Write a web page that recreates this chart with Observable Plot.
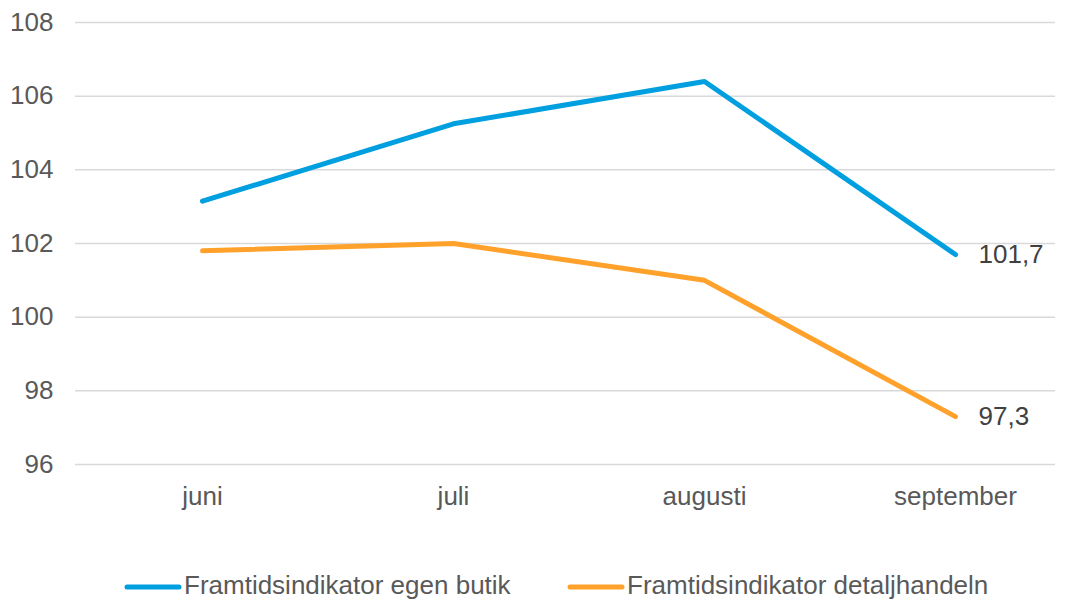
<!DOCTYPE html>
<html><head><meta charset="utf-8">
<script src="https://cdn.jsdelivr.net/npm/d3@7"></script>
<script src="https://cdn.jsdelivr.net/npm/@observablehq/plot@0.6"></script>
<style>
body{margin:0;background:#fff;font-family:"Liberation Sans",Arial,sans-serif;}
svg{display:block;}
</style></head>
<body><div id="chart"></div>
<script>
const months = ["juni","juli","augusti","september"];
const seriesNames = ["Framtidsindikator egen butik","Framtidsindikator detaljhandeln"];
const egenButik = [103.15, 105.25, 106.4, 101.7];
const detaljhandeln = [101.8, 102.0, 101.0, 97.3];
const endLabels = ["101,7","97,3"];
const yTicks = [96,98,100,102,104,106,108];
const colors = ["#009fdf","#ffa12b"];

const data = [];
months.forEach((m,i)=>{
  data.push({month:m, value:egenButik[i], series:seriesNames[0]});
  data.push({month:m, value:detaljhandeln[i], series:seriesNames[1]});
});
const last = [
  {month:months[3], value:egenButik[3], label:endLabels[0]},
  {month:months[3], value:detaljhandeln[3], label:endLabels[1]}
];

const chart = Plot.plot({
  width:1068, height:530,
  marginLeft:75, marginRight:13, marginTop:22, marginBottom:66,
  style:{fontFamily:"Liberation Sans, Arial, sans-serif", background:"#fff"},
  x:{type:"point", domain:months, range:[201,956], padding:0, label:null},
  y:{domain:[96,108], ticks:yTicks, label:null},
  color:{domain:seriesNames, range:colors},
  marks:[
    Plot.ruleY(yTicks,{stroke:"#d9d9d9", strokeWidth:1.5}),
    Plot.axisY({ticks:yTicks, tickSize:0, tickPadding:22, fontSize:26, fill:"#595959", label:null}),
    Plot.axisX({tickSize:0, tickPadding:22, fontSize:26, fill:"#595959", label:null}),
    Plot.line(data,{x:"month", y:"value", stroke:"series", strokeWidth:5, strokeLinecap:"round", strokeLinejoin:"round"}),
    Plot.text(last,{x:"month", y:"value", text:"label", textAnchor:"start", dx:23, fontSize:26, fill:"#404040"})
  ]
});
document.getElementById("chart").appendChild(chart);

// legend
const ns="http://www.w3.org/2000/svg";
const leg=document.createElementNS(ns,"svg");
leg.setAttribute("width",1068); leg.setAttribute("height",71);
const items=[{x1:127,x2:179,tx:184},{x1:570,x2:622,tx:627}];
items.forEach((it,i)=>{
  const l=document.createElementNS(ns,"line");
  l.setAttribute("x1",it.x1);l.setAttribute("x2",it.x2);
  l.setAttribute("y1",57);l.setAttribute("y2",57);
  l.setAttribute("stroke",colors[i]);l.setAttribute("stroke-width",5);l.setAttribute("stroke-linecap","round");
  leg.appendChild(l);
  const t=document.createElementNS(ns,"text");
  t.setAttribute("x",it.tx);t.setAttribute("y",64);
  t.setAttribute("font-size",26);t.setAttribute("fill","#595959");
  t.setAttribute("font-family","Liberation Sans, Arial, sans-serif");
  t.textContent=seriesNames[i];
  leg.appendChild(t);
});
document.body.appendChild(leg);
</script></body></html>
